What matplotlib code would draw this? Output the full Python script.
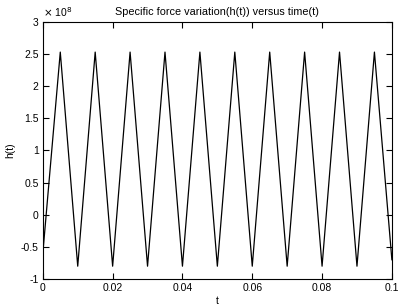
import numpy as np
from matplotlib import pyplot as plt
import matplotlib.ticker as mticker

# vertices of the signal (t in s, h in 1e8 units)
start_t, start_h = 0.0, -0.6
peak_t = [0.005, 0.015, 0.025, 0.035, 0.045, 0.055, 0.065, 0.075, 0.085, 0.095]
peak_h = [2.53, 2.53, 2.53, 2.53, 2.53, 2.53, 2.53, 2.53, 2.53, 2.53]
trough_t = [0.01, 0.02, 0.03, 0.04, 0.05, 0.06, 0.07, 0.08, 0.09]
trough_h = [-0.8, -0.8, -0.8, -0.8, -0.8, -0.8, -0.8, -0.8, -0.8]
end_t, end_h = 0.1, -0.7

t = [start_t]
h = [start_h]
for i in range(len(peak_t)):
    t.append(peak_t[i])
    h.append(peak_h[i])
    if i < len(trough_t):
        t.append(trough_t[i])
        h.append(trough_h[i])
t.append(end_t)
h.append(end_h)
t = np.array(t)
h = np.array(h) * 1e8

plt.rcParams['font.family'] = ['Liberation Sans', 'DejaVu Sans']
plt.rcParams['font.size'] = 7.5

fig = plt.figure(figsize=(4.04, 3.08), dpi=100)
ax = fig.add_axes([0.106, 0.094, 0.864, 0.835])
ax.plot(t, h, color='black', linewidth=0.9)

ax.set_xlim(0, 0.1)
ax.set_ylim(-1e8, 3e8)
ax.set_xticks(np.arange(0, 0.1001, 0.02))
ax.set_yticks(np.arange(-1, 3.01, 0.5) * 1e8)
ax.xaxis.set_major_formatter(mticker.FuncFormatter(lambda v, p: '%g' % round(v, 4)))
ax.yaxis.set_major_formatter(mticker.FuncFormatter(lambda v, p: '%g' % round(v / 1e8, 4)))
ax.tick_params(direction='in', top=True, right=True, length=4, width=0.8, pad=3)
for s in ax.spines.values():
    s.set_linewidth(0.8)

ax.text(0.0, 1.012, r'$\times$ 10$^{8}$', transform=ax.transAxes, fontsize=7.5,
        ha='left', va='bottom')
ax.set_title('Specific force variation(h(t)) versus time(t)', fontsize=7.8, pad=5)
ax.set_xlabel('t', labelpad=2)
ax.set_ylabel('h(t)', labelpad=4)

fig.savefig('out.png', dpi=100)
